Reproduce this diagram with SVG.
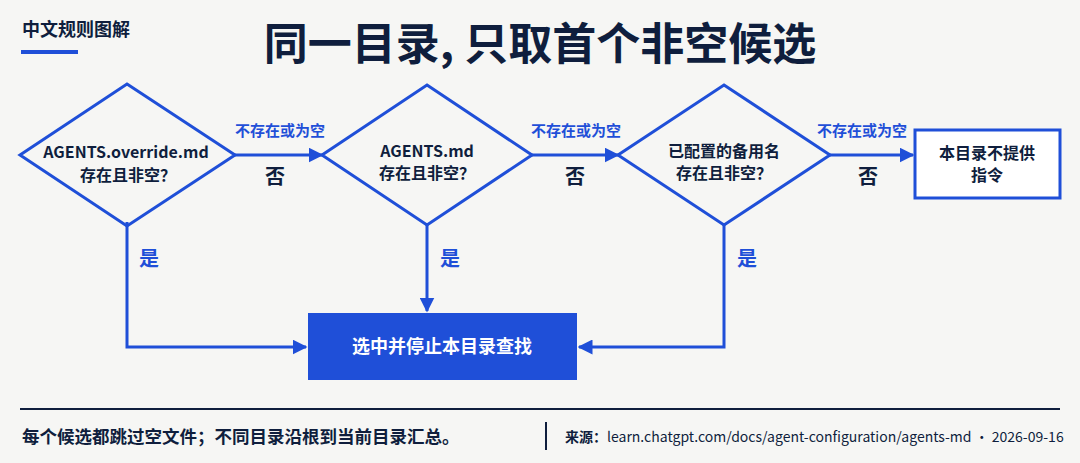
<svg xmlns="http://www.w3.org/2000/svg" width="1080" height="463" viewBox="0 0 1080 463">
<defs>
<style>
.t{font-family:"Noto Sans CJK SC","Noto Sans",sans-serif;font-weight:bold}
.s{fill:none;stroke:#1f4fd8;stroke-width:3}
.c{fill:none;stroke:#1f4fd8;stroke-width:3}
</style>
<marker id="a" viewBox="0 0 10 10" refX="9" refY="5" markerWidth="5" markerHeight="5" orient="auto"><path d="M0,0L10,5L0,10z" fill="#1f4fd8"/></marker>
</defs>
<rect width="1080" height="463" fill="#f6f6f4"/>
<text x="22" y="36" class="t" font-size="18" fill="#0f1e3d">中文规则图解</text>
<rect x="21" y="50" width="57" height="4" fill="#1f4fd8"/>
<text x="540" y="60" class="t" font-size="44" fill="#0f1e3d" text-anchor="middle">同一目录, 只取首个非空候选</text>
<g id="connectors">
<path class="c" d="M235,155H322" marker-end="url(#a)"/>
<path class="c" d="M532,155H618" marker-end="url(#a)"/>
<path class="c" d="M830,155H913" marker-end="url(#a)"/>
<path class="c" d="M127,222V347H306" marker-end="url(#a)"/>
<path class="c" d="M427,225V311" marker-end="url(#a)"/>
<path class="c" d="M724,225V347H579" marker-end="url(#a)"/>
<g class="t" font-size="15" fill="#1f4fd8" text-anchor="middle">
<text x="280" y="136">不存在或为空</text><text x="576" y="136">不存在或为空</text><text x="862" y="136">不存在或为空</text></g>
<g class="t" font-size="20" fill="#0f1e3d" text-anchor="middle">
<text x="275" y="184">否</text><text x="575" y="184">否</text><text x="868" y="184">否</text></g>
<g class="t" font-size="20" fill="#1f4fd8" text-anchor="middle">
<text x="149" y="266">是</text><text x="450" y="266">是</text><text x="747" y="266">是</text></g>
</g>
<g id="d1"><path class="s" d="M127,84L235,155L127,226L20,155z"/>
<text class="t" font-size="16" font-weight="600" fill="#0f1e3d" text-anchor="middle"><tspan x="126" y="158">AGENTS.override.md</tspan><tspan x="128" y="181">存在且非空？</tspan></text></g>
<g id="d2"><path class="s" d="M427,85L532,155L427,225L322,155z"/>
<text class="t" font-size="16" fill="#0f1e3d" text-anchor="middle"><tspan x="427" y="157">AGENTS.md</tspan><tspan x="427" y="179">存在且非空？</tspan></text></g>
<g id="d3"><path class="s" d="M724,85L830,155L724,225L618,155z"/>
<text class="t" font-size="16" fill="#0f1e3d" text-anchor="middle"><tspan x="724" y="157">已配置的备用名</tspan><tspan x="724" y="179">存在且非空？</tspan></text></g>
<g id="n4"><rect x="915" y="130" width="145" height="68" fill="#fff" stroke="#1f4fd8" stroke-width="3"/>
<text class="t" font-size="16" fill="#0f1e3d" text-anchor="middle"><tspan x="987" y="159">本目录不提供</tspan><tspan x="987" y="181">指令</tspan></text></g>
<g id="n5"><rect x="308" y="313" width="269" height="67" fill="#1f4fd8"/>
<text x="442" y="353" class="t" font-size="18" fill="#fff" text-anchor="middle">选中并停止本目录查找</text></g>
<rect x="20" y="408" width="1040" height="2" fill="#0f1e3d"/>
<text x="22" y="443" class="t" font-size="17.5" fill="#0f1e3d">每个候选都跳过空文件；不同目录沿根到当前目录汇总。</text>
<rect x="545" y="422" width="2" height="28" fill="#0f1e3d"/>
<text x="565" y="442" font-family="Noto Sans CJK SC,Noto Sans,sans-serif" font-size="14" fill="#0f1e3d"><tspan font-weight="bold">来源：</tspan>learn.chatgpt.com/docs/agent-configuration/agents-md · 2026-09-16</text>
</svg>
